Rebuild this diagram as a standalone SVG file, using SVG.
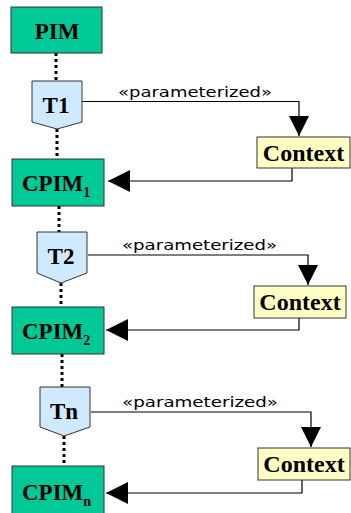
<svg xmlns="http://www.w3.org/2000/svg" width="351" height="513" viewBox="0 0 351 513">
  <style>
    .model { fill: #00c896; stroke: #333; stroke-width: 1; }
    .xform { fill: #cfe9ff; stroke: #333; stroke-width: 1; }
    .ctx { fill: #ffffc4; stroke: #333; stroke-width: 1; }
    text.title { font-family: 'Liberation Serif', 'DejaVu Serif', serif; font-weight: 700; fill: #000; }
    .big { font-size: 23px; }
    .ctxt { font-size: 24px; }
    .sub { font-size: 14px; }
    .lbl { font-family: 'DejaVu Sans', 'Liberation Sans', sans-serif; font-size: 14px; fill: #000; }
    .trace { stroke: #000; stroke-width: 3; stroke-dasharray: 3 3; fill: none; }
    .wire { stroke: #000; stroke-width: 1.2; fill: none; }
  </style>
  <defs>
    <marker id="down" viewBox="0 0 20 20" refX="20" refY="10" markerWidth="20" markerHeight="20" markerUnits="userSpaceOnUse" orient="auto">
      <path d="M0,0 L20,10 L0,20 Z" fill="#000"/>
    </marker>
    <marker id="left" viewBox="0 0 22 22" refX="22" refY="11" markerWidth="22" markerHeight="22" markerUnits="userSpaceOnUse" orient="auto">
      <path d="M0,0 L22,11 L0,22 Z" fill="#000"/>
    </marker>
  </defs>

  <!-- trace links between models and transformations -->
  <g id="connectors">
    <line class="trace" x1="56" y1="53" x2="56" y2="81"/>
    <line class="trace" x1="57" y1="129" x2="57" y2="159"/>
    <line class="trace" x1="59" y1="206" x2="59" y2="232"/>
    <line class="trace" x1="61" y1="283" x2="61" y2="307"/>
    <line class="trace" x1="62" y1="354" x2="62" y2="387"/>
    <line class="trace" x1="64" y1="436" x2="64" y2="466"/>

    <!-- parameterization flows -->
    <polyline class="wire" points="82,101.5 299,101.5 299,136" marker-end="url(#down)"/>
    <text class="lbl" x="118" y="97" textLength="154" lengthAdjust="spacingAndGlyphs">«parameterized»</text>
    <polyline class="wire" points="292,168 292,181 108,181" marker-end="url(#left)"/>

    <polyline class="wire" points="88,255 308,255 308,285" marker-end="url(#down)"/>
    <text class="lbl" x="122" y="250" textLength="155" lengthAdjust="spacingAndGlyphs">«parameterized»</text>
    <polyline class="wire" points="299,318 299,330 106,330" marker-end="url(#left)"/>

    <polyline class="wire" points="91,412 311,412 311,447" marker-end="url(#down)"/>
    <text class="lbl" x="122" y="407" textLength="156" lengthAdjust="spacingAndGlyphs">«parameterized»</text>
    <polyline class="wire" points="302,480 302,493 106,493" marker-end="url(#left)"/>
  </g>

  <g id="pim">
    <rect class="model" x="11" y="7" width="91" height="46"/>
    <text class="title big" x="57" y="38.5" text-anchor="middle">PIM</text>
  </g>

  <g id="t1">
    <path class="xform" d="M32,81 H82 V122 L57,129 L32,122 Z"/>
    <text class="title big" x="56" y="113" text-anchor="middle">T1</text>
  </g>

  <g id="context1">
    <rect class="ctx" x="257" y="137" width="93" height="31"/>
    <text class="title ctxt" x="303.5" y="161" text-anchor="middle">Context</text>
  </g>

  <g id="cpim1">
    <rect class="model" x="12" y="159" width="92" height="47"/>
    <text class="title big" x="22" y="191">CPIM<tspan class="sub" dy="6">1</tspan></text>
  </g>

  <g id="t2">
    <path class="xform" d="M37,232 H87 V273 L61,283 L37,273 Z"/>
    <text class="title big" x="61" y="264" text-anchor="middle">T2</text>
  </g>

  <g id="context2">
    <rect class="ctx" x="254" y="286" width="92" height="32"/>
    <text class="title ctxt" x="300" y="310" text-anchor="middle">Context</text>
  </g>

  <g id="cpim2">
    <rect class="model" x="12" y="307" width="92" height="47"/>
    <text class="title big" x="22" y="339">CPIM<tspan class="sub" dy="6">2</tspan></text>
  </g>

  <g id="tn">
    <path class="xform" d="M40,387 H90 V427 L64,436 L40,427 Z"/>
    <text class="title big" x="64" y="419" text-anchor="middle">Tn</text>
  </g>

  <g id="context3">
    <rect class="ctx" x="258" y="448" width="92" height="32"/>
    <text class="title ctxt" x="304" y="472" text-anchor="middle">Context</text>
  </g>

  <g id="cpimn">
    <rect class="model" x="12" y="466" width="92" height="50"/>
    <text class="title big" x="22" y="500">CPIM<tspan class="sub" dy="6">n</tspan></text>
  </g>
</svg>
